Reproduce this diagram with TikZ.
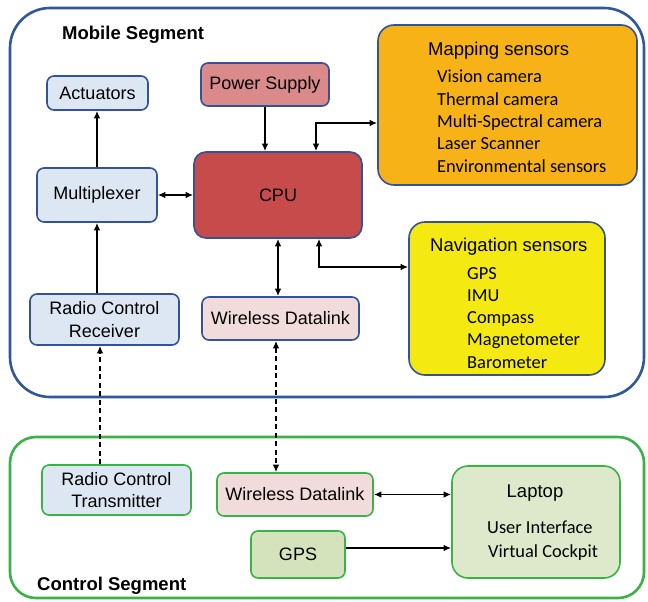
\documentclass[tikz,border=0pt]{standalone}
\usepackage{fontspec}
\setmainfont{Liberation Sans}
\newfontfamily\listfont{Carlito}
\usetikzlibrary{arrows.meta,calc}

\definecolor{mobblue}{RGB}{46,88,152}
\definecolor{boxblue}{RGB}{52,82,150}
\definecolor{ctrlgreen}{RGB}{58,178,72}
\definecolor{skyfill}{RGB}{220,231,243}
\definecolor{psufill}{RGB}{218,138,138}
\definecolor{cpufill}{RGB}{200,75,75}
\definecolor{pinkfill}{RGB}{242,220,219}
\definecolor{orangefill}{RGB}{246,178,22}
\definecolor{yellowfill}{RGB}{244,234,18}
\definecolor{gpsfill}{RGB}{213,227,188}
\definecolor{lapfill}{RGB}{221,233,202}

\tikzset{
  segment/.style={rounded corners=#1, line width=2.6pt},
  unit/.style={rectangle, rounded corners=7pt, line width=1.6pt, inner sep=0pt,
    align=center, font=\fontsize{18}{22.5}\selectfont},
  mobunit/.style={unit, draw=boxblue},
  ctlunit/.style={unit, draw=ctrlgreen},
  bigunit/.style={rectangle, rounded corners=16pt, line width=1.6pt},
  title/.style={inner sep=0pt, font=\fontsize{18.5}{21}\selectfont},
  segtitle/.style={inner sep=0pt, font=\bfseries\fontsize{18.5}{21}\selectfont},
  listtxt/.style={inner sep=0pt, font=\listfont\fontsize{18.4}{21}\selectfont},
  link/.style={line width=1.5pt, black},
  tip/.style={-{Latex[length=7.5pt,width=6.5pt]}},
  tips/.style={{Latex[length=7.5pt,width=6.5pt]}-{Latex[length=7.5pt,width=6.5pt]}},
  radio/.style={link, dash pattern=on 5pt off 3.5pt}
}

\begin{document}
\begin{tikzpicture}[x=1pt,y=-1pt]
\useasboundingbox[fill=white] (0,0) rectangle (648,602);

% segments
\draw[segment=40pt, draw=mobblue] (10,8) rectangle (644,397);
\draw[segment=26pt, draw=ctrlgreen] (10,437) rectangle (644,598);
\node[segtitle, anchor=base west] (mobtitle) at (62,40) {Mobile Segment};
\node[segtitle, anchor=base west] (ctltitle) at (37,590) {Control Segment};

% mobile segment units
\node[mobunit, fill=skyfill, minimum width=101pt, minimum height=34pt] (act) at (97.5,93) {Actuators};
\node[mobunit, fill=psufill, minimum width=128pt, minimum height=43pt] (psu) at (265,84.5) {Power Supply};
\node[mobunit, fill=cpufill, rounded corners=12pt, minimum width=168pt, minimum height=86pt] (cpu) at (278,195) {CPU};
\node[mobunit, fill=skyfill, minimum width=120pt, minimum height=54pt] (mux) at (97,195) {Multiplexer};
\node[mobunit, fill=skyfill, minimum width=149pt, minimum height=51pt] (rcr) at (104.5,319.5) {Radio Control\\Receiver};
\node[mobunit, fill=pinkfill, minimum width=157pt, minimum height=43pt] (wdm) at (280.5,318.5) {Wireless Datalink};

% mapping sensors
\node[bigunit, draw=boxblue, fill=orangefill, minimum width=259pt, minimum height=160pt] (map) at (507.5,105) {};
\node[title, anchor=base west] (maptitle) at (428,56) {Mapping sensors};
\foreach \t [count=\i] in {Vision camera, Thermal camera, Multi-Spectral camera, Laser Scanner, Environmental sensors}
  \node[listtxt, anchor=base west] (map\i) at (437,{83+22.3*(\i-1)}) {\t};

% navigation sensors
\node[bigunit, draw=boxblue, fill=yellowfill, minimum width=196pt, minimum height=153pt] (nav) at (507,298.5) {};
\node[title, anchor=base west] (navtitle) at (430,251) {Navigation sensors};
\foreach \t [count=\i] in {GPS, IMU, Compass, Magnetometer, Barometer}
  \node[listtxt, anchor=base west] (nav\i) at (467,{279+22.3*(\i-1)}) {\t};

% control segment units
\node[ctlunit, fill=skyfill, minimum width=149pt, minimum height=50pt] (rct) at (116.5,490) {Radio Control\\Transmitter};
\node[ctlunit, fill=pinkfill, minimum width=156pt, minimum height=43pt] (wdc) at (295,494.5) {Wireless Datalink};
\node[ctlunit, fill=gpsfill, minimum width=94pt, minimum height=47pt] (gps) at (298,554.5) {GPS};
\node[bigunit, draw=ctrlgreen, fill=lapfill, minimum width=168pt, minimum height=112pt] (lap) at (536,522) {};
\node[title, anchor=base] (laptitle) at (535,497) {Laptop};
\node[listtxt, anchor=base west] (lap1) at (487,533) {User Interface};
\node[listtxt, anchor=base west] (lap2) at (488,557) {Virtual Cockpit};

% connector end points off the node centres
\coordinate (cpuup) at ($(cpu.north)+(38,0)$);
\coordinate (mapin) at ($(map.west)+(0,18)$);
\coordinate (cpudn) at ($(cpu.south)+(41,0)$);
\coordinate (navin) at ($(nav.west)+(0,-31.5)$);
\coordinate (gpsout) at ($(gps.east)+(0,-6.5)$);
\coordinate (rcrin) at ($(rcr.south)+(-4.5,0)$);
\coordinate (wdmin) at ($(wdm.south)+(-4.5,0)$);

% wired links
\draw[link, tip] (mux.north) -- (mux.north |- act.south);
\draw[link, tip] (mux.south |- rcr.north) -- (mux.south);
\draw[link, tips] (mux.east) -- (cpu.west);
\draw[link, tip] (psu.south) -- (psu.south |- cpu.north);
\draw[link, tips] (cpu.south) -- (cpu.south |- wdm.north);
\draw[link, tips] (cpuup) |- (mapin);
\draw[link, tips] (cpudn) |- (navin);
\draw[link, tips] (wdc.east) -- (wdc.east -| lap.west);
\draw[link, tip] (gpsout) -- (gpsout -| lap.west);

% radio links
\draw[radio, tip] (rcrin |- rct.north) -- (rcrin);
\draw[radio, tips] (wdmin) -- (wdmin |- wdc.north);
\end{tikzpicture}
\end{document}
